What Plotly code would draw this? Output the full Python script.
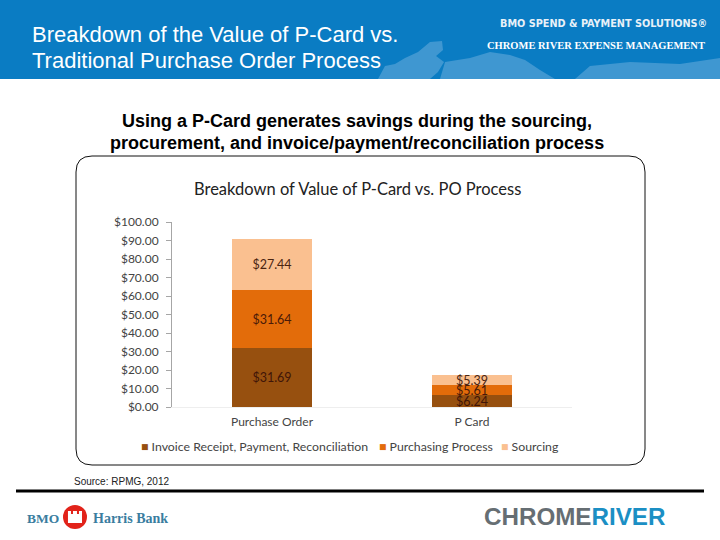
import plotly.graph_objects as go

W, H = 720, 540


def px(x):
    return x / W


def py(y):
    return 1 - y / H


categories = ['Purchase Order', 'P Card']
invoice_values = [31.69, 6.24]
purchasing_values = [31.64, 5.61]
sourcing_values = [27.44, 5.39]
tick_values = [0, 10, 20, 30, 40, 50, 60, 70, 80, 90, 100]
tick_labels = ['$0.00', '$10.00', '$20.00', '$30.00', '$40.00', '$50.00', '$60.00', '$70.00', '$80.00', '$90.00',
               '$100.00']
series_names = ['Invoice Receipt, Payment, Reconciliation', 'Purchasing Process', 'Sourcing']
series_colors = ['#97500f', '#e36c0a', '#fac090']

header_lines = ['Breakdown of the Value of P-Card vs.', 'Traditional Purchase Order Process']
sub_lines = ['Using a P-Card generates savings during the sourcing,',
             'procurement, and invoice/payment/reconciliation process']

fig = go.Figure()

for name, values, color, text_color in zip(series_names,
                                           [invoice_values, purchasing_values, sourcing_values],
                                           series_colors,
                                           ['#3f1508', '#4a1a08', '#4a2410']):
    fig.add_trace(go.Bar(
        x=categories,
        y=values,
        name=name,
        marker_color=color,
        marker_line_width=0,
        width=0.4,
        text=['${:.2f}'.format(v) for v in values],
        textposition='inside',
        insidetextanchor='middle',
        textangle=0,
        constraintext='none',
        textfont=dict(family='Lato', size=12.5, color=text_color),
        showlegend=False,
    ))

fig.update_layout(
    width=W,
    height=H,
    margin=dict(l=0, r=0, t=0, b=0),
    barmode='stack',
    paper_bgcolor='white',
    plot_bgcolor='white',
    font_family='Lato',
    xaxis=dict(domain=[px(172), px(572)], automargin=False, showgrid=False, zeroline=False, showline=True,
               linecolor='#eeeeee', ticks='', tickfont=dict(size=12, color='#444444'), ticklabelstandoff=4),
    yaxis=dict(domain=[py(407), py(222)], automargin=False, range=[0, 100], tickvals=tick_values,
               ticktext=tick_labels, showgrid=False, zeroline=False, showline=True, linecolor='#a6a6a6',
               ticks='outside', ticklen=5, tickcolor='#a6a6a6', tickfont=dict(size=12, color='#444444'),
               ticklabelstandoff=5),
)

# header band, map, frame and footer rule
fig.add_shape(type='rect', xref='paper', yref='paper', x0=0, x1=1, y0=py(79), y1=1,
              fillcolor='#0a7cc3', line_width=0, layer='below')


def pixel_path(points):
    return 'M' + 'L'.join('{:.4f},{:.4f}'.format(px(x), py(y)) for x, y in points) + 'Z'


map_parts = [
    [(378, 79), (385, 66), (395, 64), (405, 58), (418, 52), (430, 42), (442, 41), (443, 50), (436, 56), (444, 62),
     (438, 72), (430, 79)],
    [(445, 62), (470, 58), (490, 52), (510, 55), (525, 60), (540, 70), (555, 79), (440, 79)],
    [(575, 79), (590, 66), (630, 62), (680, 64), (720, 58), (720, 79)],
]
for part in map_parts:
    fig.add_shape(type='path', xref='paper', yref='paper', path=pixel_path(part),
                  fillcolor='#3f97d1', line_width=0, layer='below')

r = 16
frame = ('M{},{} L{},{} Q{},{} {},{} L{},{} Q{},{} {},{} L{},{} Q{},{} {},{} L{},{} Q{},{} {},{} Z'.format(
    px(76 + r), py(156), px(645 - r), py(156), px(645), py(156), px(645), py(156 + r),
    px(645), py(465 - r), px(645), py(465), px(645 - r), py(465),
    px(76 + r), py(465), px(76), py(465), px(76), py(465 - r),
    px(76), py(156 + r), px(76), py(156), px(76 + r), py(156)))
fig.add_shape(type='path', xref='paper', yref='paper', path=frame, line=dict(color='#111111', width=1), layer='below')

fig.add_shape(type='line', xref='paper', yref='paper', x0=px(16), x1=px(704), y0=py(491), y1=py(491),
              line=dict(color='black', width=3))

# bank roundel
fig.add_shape(type='circle', xref='paper', yref='paper', x0=px(63), x1=px(87), y0=py(529), y1=py(505),
              fillcolor='#e2231a', line_width=0)
crown = [(68, 523), (68, 511), (71, 511), (71, 514), (73, 514), (73, 511), (77, 511), (77, 514), (79, 514), (79, 511),
         (82, 511), (82, 523)]
fig.add_shape(type='path', xref='paper', yref='paper', path=pixel_path(crown), fillcolor='white', line_width=0)


def note(text, x, y, size, color='black', family='Liberation Sans', anchor='left'):
    fig.add_annotation(text=text, xref='paper', yref='paper', x=px(x), y=py(y), xanchor=anchor, yanchor='middle',
                       showarrow=False, font=dict(family=family, size=size, color=color), borderpad=0, borderwidth=0)


note(header_lines[0], 32, 34, 22, 'white')
note(header_lines[1], 32, 61, 22, 'white')
note('<b>BMO SPEND &amp; PAYMENT SOLUTIONS®</b>', 707, 23, 10.8, '#e8f1f8', 'DejaVu Sans Condensed', 'right')
note('<b>CHROME RIVER EXPENSE MANAGEMENT</b>', 705, 46, 10.5, 'white', 'Liberation Serif', 'right')
note('<b>' + sub_lines[0] + '</b>', 357, 121, 18, anchor='center')
note('<b>' + sub_lines[1] + '</b>', 357, 143, 18, anchor='center')
note('Breakdown of Value of P-Card vs. PO Process', 357.5, 189, 16.5, '#222222', 'Lato', 'center')
note('Source: RPMG, 2012', 74, 481, 10, '#222222')

for name, color, x in zip(series_names, series_colors, [141, 379, 501]):
    note('<span style="color:{}">■</span> {}'.format(color, name), x, 446, 12.3, '#444444', 'Lato')

note('<b>BMO</b>', 27, 518, 13.5, '#3a7d9f', 'Liberation Serif')
note('<b>Harris Bank</b>', 93, 518, 14, '#3a7d9f', 'Liberation Serif')
note('<b>CHROME<span style="color:#1b8fc4">RIVER</span></b>', 484, 516, 24.2, '#666e73', 'Liberation Sans')

fig.write_html("out.html", config={'displayModeBar': False}, post_script="document.body.style.margin='0';")
